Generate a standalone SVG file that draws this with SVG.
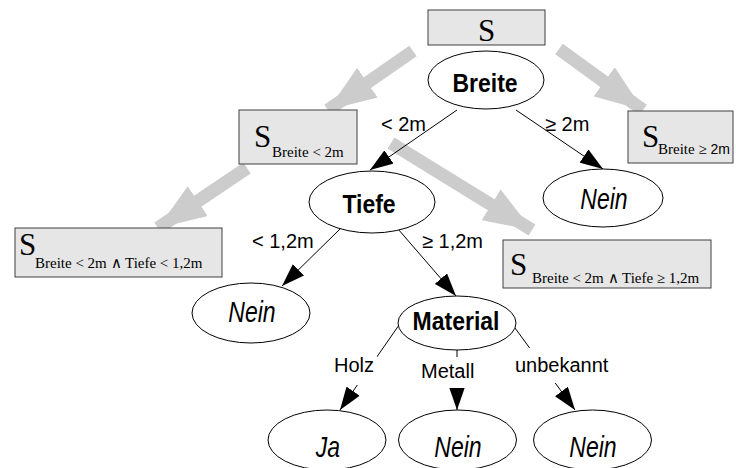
<svg xmlns="http://www.w3.org/2000/svg" width="736" height="468" viewBox="0 0 736 468">
  <style>
    .box { fill: #e6e6e6; stroke: #404040; stroke-width: 1; }
    .node { fill: #ffffff; stroke: #000000; stroke-width: 1; }
    .edge { stroke: #000000; stroke-width: 1; fill: none; marker-end: url(#head); }
    .flow { stroke: #cccccc; stroke-width: 13; fill: none; marker-end: url(#flowhead); }
    .attr { font-family: "Liberation Sans", Arial, sans-serif; font-weight: bold; font-size: 23px; text-anchor: middle; }
    .leaf { font-family: "Liberation Sans", Arial, sans-serif; font-style: italic; font-size: 23px; text-anchor: middle; }
    .lbl { font-family: "Liberation Sans", Arial, sans-serif; font-size: 20px; }
    .lblbg { fill: #ffffff; stroke: none; }
    .set { font-family: "Liberation Serif", "Times New Roman", serif; font-size: 31px; }
    .sub { font-family: "Liberation Serif", "Times New Roman", serif; font-size: 15px; }
  </style>
  <defs>
    <marker id="head" markerUnits="userSpaceOnUse" markerWidth="24" markerHeight="16" refX="23" refY="8" orient="auto">
      <path d="M0,0 L23,8 L0,16 z" fill="#000000"/>
    </marker>
    <marker id="flowhead" markerUnits="userSpaceOnUse" markerWidth="50" markerHeight="36" refX="48" refY="18" orient="auto">
      <path d="M0,0 L48,18 L0,36 z" fill="#cccccc"/>
    </marker>
  </defs>

  <rect width="736" height="468" fill="#ffffff"/>

  <!-- data subsets passed down the tree -->
  <g id="data-flow">
    <line class="flow" x1="413" y1="51" x2="328" y2="110"/>
    <line class="flow" x1="559" y1="49" x2="643" y2="110"/>
    <line class="flow" x1="247" y1="168" x2="158" y2="228"/>
    <line class="flow" x1="391" y1="143" x2="532" y2="230"/>
  </g>

  <!-- decision edges -->
  <g id="connectors">
    <line class="edge" x1="457" y1="110" x2="370" y2="170"/>
    <line class="edge" x1="516" y1="110" x2="603" y2="169"/>
    <line class="edge" x1="340" y1="229" x2="282" y2="286"/>
    <line class="edge" x1="398" y1="229" x2="456" y2="296"/>
    <line class="edge" x1="399" y1="325" x2="340" y2="410"/>
    <line class="edge" x1="457" y1="350" x2="457" y2="410"/>
    <line class="edge" x1="515" y1="328" x2="575" y2="410"/>
  </g>

  <!-- edge labels -->
  <g id="edge-labels">
    <text class="lbl" x="381" y="131">&lt; 2m</text>
    <text class="lbl" x="545" y="131">≥ 2m</text>
    <text class="lbl" x="252" y="248">&lt; 1,2m</text>
    <text class="lbl" x="422" y="248">≥ 1,2m</text>
    <rect class="lblbg" x="331" y="356" width="46" height="29"/>
    <text class="lbl" x="334" y="372">Holz</text>
    <rect class="lblbg" x="418" y="357" width="60" height="31"/>
    <text class="lbl" x="421" y="378">Metall</text>
    <rect class="lblbg" x="512" y="348" width="104" height="35"/>
    <text class="lbl" x="515" y="372">unbekannt</text>
  </g>

  <!-- sets -->
  <g id="set-all">
    <rect class="box" x="428" y="10" width="117" height="35"/>
    <text class="set" x="486.5" y="41" text-anchor="middle">S</text>
  </g>
  <g id="set-breite-lt">
    <rect class="box" x="239" y="110" width="118" height="54"/>
    <text class="set" x="254" y="147">S</text>
    <text class="sub" x="272" y="157">Breite &lt; 2m</text>
  </g>
  <g id="set-breite-ge">
    <rect class="box" x="628" y="111" width="105" height="52"/>
    <text class="set" x="642" y="147">S</text>
    <text class="sub" x="658" y="154">Breite ≥ <tspan font-family="Liberation Sans, Arial, sans-serif" font-size="14">2m</tspan></text>
  </g>
  <g id="set-tiefe-lt">
    <rect class="box" x="15" y="228" width="207" height="49"/>
    <text class="set" x="19" y="255">S</text>
    <text class="sub" x="35" y="268">Breite &lt; 2m ∧ Tiefe &lt; 1,2m</text>
  </g>
  <g id="set-tiefe-ge">
    <rect class="box" x="503" y="240" width="208" height="48"/>
    <text class="set" x="510" y="275">S</text>
    <text class="sub" x="532" y="283">Breite &lt; 2m ∧ Tiefe ≥ 1,2m</text>
  </g>

  <!-- tree nodes; node captions are drawn slightly tall -->
  <g id="node-breite">
    <ellipse class="node" cx="486" cy="80" rx="58" ry="29"/>
    <text class="attr" transform="translate(485,92) scale(1,1.15)">Breite</text>
  </g>
  <g id="node-nein-breite">
    <ellipse class="node" cx="603" cy="198" rx="60" ry="29"/>
    <text class="leaf" transform="translate(604,209) scale(1,1.3)">Nein</text>
  </g>
  <g id="node-tiefe">
    <ellipse class="node" cx="372" cy="202" rx="63" ry="31"/>
    <text class="attr" transform="translate(369,213) scale(1,1.15)">Tiefe</text>
  </g>
  <g id="node-nein-tiefe">
    <ellipse class="node" cx="251" cy="313" rx="59" ry="30"/>
    <text class="leaf" transform="translate(252,322) scale(1,1.3)">Nein</text>
  </g>
  <g id="node-material">
    <ellipse class="node" cx="457" cy="323" rx="59" ry="27"/>
    <text class="attr" transform="translate(456,330) scale(1,1.1)">Material</text>
  </g>
  <g id="node-ja">
    <ellipse class="node" cx="327" cy="440" rx="59" ry="30"/>
    <text class="leaf" transform="translate(328,457) scale(1,1.3)">Ja</text>
  </g>
  <g id="node-nein-metall">
    <ellipse class="node" cx="457.5" cy="440" rx="59" ry="30"/>
    <text class="leaf" transform="translate(458,457) scale(1,1.3)">Nein</text>
  </g>
  <g id="node-nein-unbekannt">
    <ellipse class="node" cx="592.5" cy="440" rx="59" ry="30"/>
    <text class="leaf" transform="translate(593,457) scale(1,1.3)">Nein</text>
  </g>
</svg>
